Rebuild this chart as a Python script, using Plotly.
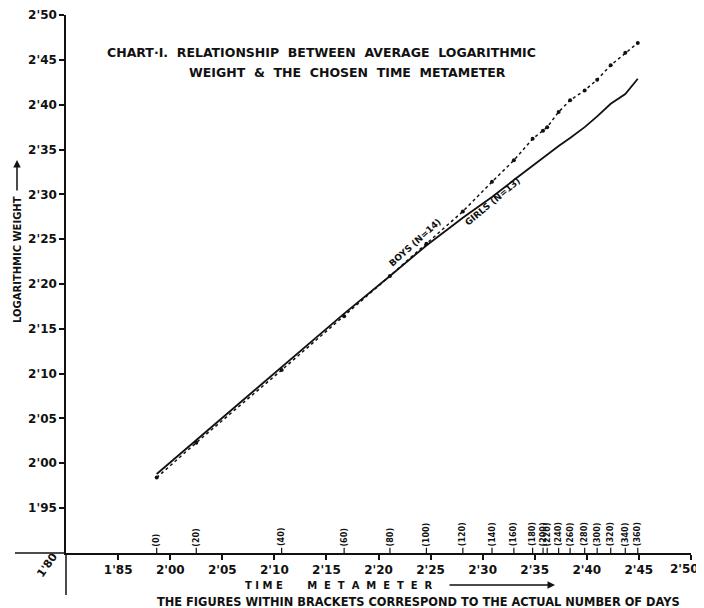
import plotly.graph_objects as go

# ---- data ----
metameter = [1.987, 2.025, 2.107, 2.167, 2.211, 2.246, 2.281, 2.309, 2.330, 2.348,
             2.358, 2.362, 2.373, 2.384, 2.398, 2.410, 2.423, 2.437, 2.449]
days = [0, 20, 40, 60, 80, 100, 120, 140, 160, 180, 200, 220, 240, 260, 280, 300,
        320, 340, 360]
boys = [1.984, 2.023, 2.104, 2.164, 2.209, 2.245, 2.281, 2.314, 2.338, 2.362,
        2.371, 2.375, 2.392, 2.405, 2.416, 2.428, 2.444, 2.458, 2.469]
girls = [1.988, 2.026, 2.108, 2.167, 2.209, 2.243, 2.274, 2.297, 2.316, 2.332,
         2.341, 2.344, 2.354, 2.363, 2.375, 2.387, 2.401, 2.412, 2.429]

x_tickvals = [1.95, 2.00, 2.05, 2.10, 2.15, 2.20, 2.25, 2.30, 2.35, 2.40, 2.45, 2.50]
x_ticktext = ["1'85", "2'00", "2'05", "2'10", "2'15", "2'20", "2'25", "2'30",
              "2'35", "2'40", "2'45", "2'50"]
y_tickvals = [1.95, 2.00, 2.05, 2.10, 2.15, 2.20, 2.25, 2.30, 2.35, 2.40, 2.45, 2.50]
y_ticktext = ["1'95", "2'00", "2'05", "2'10", "2'15", "2'20", "2'25", "2'30",
              "2'35", "2'40", "2'45", "2'50"]

FONT = "DejaVu Sans"
BLK = "#111111"

fig = go.Figure()
fig.add_trace(go.Scatter(x=metameter, y=girls, mode="lines", name="Girls",
                         line=dict(color=BLK, width=1.8)))
fig.add_trace(go.Scatter(x=metameter, y=boys, mode="lines+markers", name="Boys",
                         line=dict(color=BLK, width=1.5, dash="dot"),
                         marker=dict(color=BLK, size=4)))
# small marks on the time axis where the day labels sit
fig.add_trace(go.Scatter(x=metameter, y=[1.9025] * len(metameter), mode="markers",
                         cliponaxis=False, hoverinfo="skip",
                         marker=dict(symbol="line-ns", size=4,
                                     line=dict(color=BLK, width=1.2))))

# bracket labels (actual number of days)
for m, d in zip(metameter, days):
    fig.add_annotation(x=m, y=1.905, xref="x", yref="y", text=f"({d})",
                       textangle=-90, showarrow=False, xanchor="center",
                       yanchor="bottom",
                       font=dict(family=FONT, size=8, color=BLK, weight="bold"))

ann_font = dict(family=FONT, color=BLK, weight="bold")
fig.add_annotation(x=2.2346, y=2.246, xref="x", yref="y", text="BOYS (N=14)",
                   textangle=-42, showarrow=False, xanchor="center", yanchor="middle",
                   font=dict(size=9, **ann_font))
fig.add_annotation(x=2.309, y=2.292, xref="x", yref="y", text="GIRLS (N=13)",
                   textangle=-40, showarrow=False, xanchor="center", yanchor="middle",
                   font=dict(size=9, **ann_font))

# titles
fig.add_annotation(x=0.0624, y=0.931, xref="paper", yref="paper", xanchor="left",
                   yanchor="middle",
                   text="CHART·I.  RELATIONSHIP  BETWEEN  AVERAGE  LOGARITHMIC",
                   showarrow=False, font=dict(size=12.5, **ann_font))
fig.add_annotation(x=0.1936, y=0.894, xref="paper", yref="paper", xanchor="left",
                   yanchor="middle",
                   text="WEIGHT  &  THE  CHOSEN  TIME  METAMETER",
                   showarrow=False, font=dict(size=12.5, **ann_font))

# y axis title + arrow
fig.add_annotation(x=-0.0784, y=0.5446, xref="paper", yref="paper",
                   xanchor="center", yanchor="middle",
                   text="LOGARITHMIC WEIGHT", textangle=-90,
                   showarrow=False, font=dict(size=10, **ann_font))
fig.add_annotation(x=-0.0784, y=0.7305, xref="paper", yref="paper",
                   ax=0, ay=32, axref="pixel", ayref="pixel",
                   text="", showarrow=True, arrowhead=2, arrowsize=1,
                   arrowwidth=1.5, arrowcolor=BLK)

# x axis title + arrow
fig.add_annotation(x=0.2832, y=-0.0595, xref="paper", yref="paper", xanchor="left",
                   yanchor="middle",
                   text="T I M E       M  E  T  A  M  E  T  E  R",
                   showarrow=False, font=dict(size=10, **ann_font))
fig.add_annotation(x=0.7824, y=-0.0595, xref="paper", yref="paper",
                   ax=-107, ay=0, axref="pixel", ayref="pixel",
                   text="", showarrow=True, arrowhead=2, arrowsize=1,
                   arrowwidth=1.5, arrowcolor=BLK)

fig.add_annotation(x=0.1424, y=-0.091, xref="paper", yref="paper", xanchor="left",
                   yanchor="middle",
                   text="THE FIGURES WITHIN BRACKETS CORRESPOND TO THE ACTUAL NUMBER OF DAYS",
                   showarrow=False, font=dict(size=11.4, **ann_font))
fig.add_annotation(x=-0.029, y=-0.022, xref="paper", yref="paper", text="1'80",
                   xanchor="center", yanchor="middle",
                   textangle=-55, showarrow=False, font=dict(size=11, **ann_font))

# last x tick label, nudged left so it stays inside the window (as in the reference)
fig.add_annotation(x=x_tickvals[-1], y=-0.0297, xref="x", yref="paper",
                   text=x_ticktext[-1], xanchor="center", yanchor="middle",
                   xshift=-6, showarrow=False,
                   font=dict(family=FONT, size=12, color=BLK, weight="bold"))
x_ticktext_axis = x_ticktext[:-1] + [""]

# axis extensions beyond the origin
fig.add_shape(type="line", xref="paper", yref="paper", x0=-0.0816, x1=0, y0=0, y1=0,
              line=dict(color=BLK, width=1.5))
fig.add_shape(type="line", xref="paper", yref="paper", x0=0, x1=0, y0=0, y1=-0.078,
              line=dict(color=BLK, width=1.5))

axis_common = dict(showgrid=False, zeroline=False, showline=True, linecolor=BLK,
                   linewidth=1.5, ticks="outside", ticklen=5, tickwidth=1.5,
                   tickcolor=BLK, automargin=False, ticklabeloverflow="allow",
                   tickfont=dict(family=FONT, size=12, color=BLK, weight="bold"))
fig.update_xaxes(range=[1.8999, 2.5001], tickvals=x_tickvals, ticktext=x_ticktext_axis,
                 **axis_common)
fig.update_yaxes(range=[1.8999, 2.5001], tickvals=y_tickvals, ticktext=y_ticktext,
                 **axis_common)

# the page body adds an 8px offset; margins compensate for it
fig.update_layout(width=704, height=600, showlegend=False,
                  plot_bgcolor="white", paper_bgcolor="white",
                  margin=dict(l=58, r=21, t=7, b=55, autoexpand=False))

fig.write_html("out.html")
